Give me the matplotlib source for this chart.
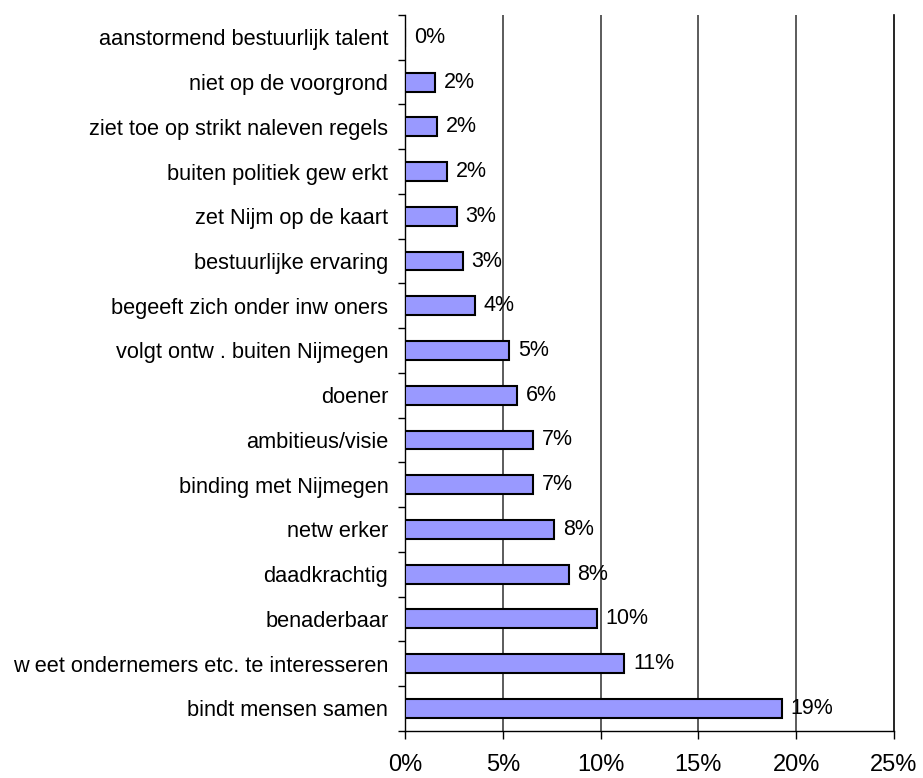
import matplotlib
matplotlib.use("Agg")
import matplotlib.pyplot as plt
import numpy as np

plt.rcParams['font.family'] = ['Liberation Sans', 'DejaVu Sans']

categories = [
    "aanstormend bestuurlijk talent",
    "niet op de voorgrond",
    "ziet toe op strikt naleven regels",
    "buiten politiek gew erkt",
    "zet Nijm op de kaart",
    "bestuurlijke ervaring",
    "begeeft zich onder inw oners",
    "volgt ontw . buiten Nijmegen",
    "doener",
    "ambitieus/visie",
    "binding met Nijmegen",
    "netw erker",
    "daadkrachtig",
    "benaderbaar",
    "w eet ondernemers etc. te interesseren",
    "bindt mensen samen",
]
values = [0.0, 1.53, 1.63, 2.14, 2.65, 2.96, 3.57, 5.31, 5.71, 6.53, 6.53, 7.64, 8.37, 9.80, 11.22, 19.27]
xticks = [0, 5, 10, 15, 20, 25]
xticklabels = ["0%", "5%", "10%", "15%", "20%", "25%"]

fig = plt.figure(figsize=(9.23, 7.78), dpi=100)
ax = fig.add_axes([0.4388, 0.0608, 0.9686 - 0.4388, 0.9807 - 0.0608])

n = len(categories)
y = np.arange(n)
ax.barh(y, values, height=0.42, color="#9999FF", edgecolor="black", linewidth=1.5, zorder=3)

for yi, v in zip(y, values):
    ax.text(v + 0.45, yi, f"{round(v):.0f}%", va="center", ha="left", fontsize=15.5, zorder=4)

ax.set_xlim(0, 25)
ax.set_ylim(n - 0.5, -0.5)
ax.set_xticks(xticks)
ax.set_xticklabels(xticklabels, fontsize=17)
ax.set_yticks(y)
ax.set_yticklabels(categories, fontsize=15.7)
ax.set_yticks(np.arange(-0.5, n, 1.0), minor=True)
ax.tick_params(axis="y", which="major", length=0, pad=12)
ax.tick_params(axis="y", which="minor", length=5, width=1, direction="out")
ax.tick_params(axis="x", which="major", length=6, width=1, direction="out", pad=11)

for xv in xticks[1:-1]:
    ax.axvline(xv, color="#404040", linewidth=1.2, zorder=1)

ax.spines["top"].set_visible(False)
ax.spines["right"].set_visible(True)
ax.spines["right"].set_linewidth(1.2)
for s in ["left", "bottom"]:
    ax.spines[s].set_linewidth(1.0)

fig.savefig("out.png", dpi=100)
